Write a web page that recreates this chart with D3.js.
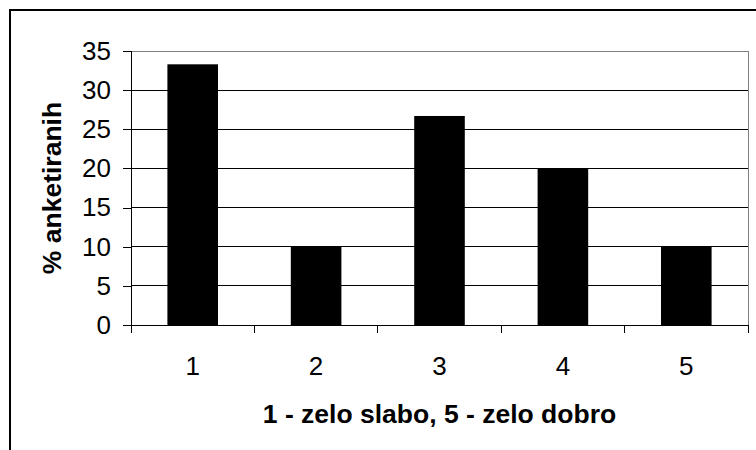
<!DOCTYPE html>
<html>
<head>
<meta charset="utf-8">
<script src="https://cdn.jsdelivr.net/npm/d3@7"></script>
<style>
  html, body { margin: 0; padding: 0; background: #fff; }
  svg { display: block; font-family: "Liberation Sans", Arial, sans-serif; }
</style>
</head>
<body>
<div id="chart"></div>
<script>
// Survey rating chart: share of respondents per grade (1 = very bad, 5 = very good)
const categories = ["1", "2", "3", "4", "5"];
const percents = [33.3, 10, 26.7, 20, 10];
const yTicks = [0, 5, 10, 15, 20, 25, 30, 35];
const xTitle = "1 - zelo slabo, 5 - zelo dobro";
const yTitle = "% anketiranih";

const W = 756, H = 450;
const plot = { left: 131, top: 51, right: 748, bottom: 325 };

const svg = d3.select("#chart")
  .append("svg")
  .attr("width", W)
  .attr("height", H)
  .attr("viewBox", `0 0 ${W} ${H}`);

// outer frame (cut off at the right and bottom in the original)
svg.append("rect")
  .attr("x", 10).attr("y", 10)
  .attr("width", W + 20).attr("height", H + 20)
  .attr("fill", "none")
  .attr("stroke", "#000")
  .attr("stroke-width", 2);

// Scales
const x = d3.scaleBand()
  .domain(categories)
  .range([plot.left, plot.right])
  .paddingInner(0.59)
  .paddingOuter(0.295);
const y = d3.scaleLinear()
  .domain([0, 35])
  .range([plot.bottom, plot.top]);

// gridlines
svg.append("g")
  .attr("shape-rendering", "crispEdges")
  .selectAll("line")
  .data(yTicks.filter(t => t > 0 && t < 35))
  .join("line")
  .attr("x1", plot.left).attr("x2", plot.right)
  .attr("y1", d => y(d)).attr("y2", d => y(d))
  .attr("stroke", "#000");

// plot border (top + right in gray)
svg.append("path")
  .attr("shape-rendering", "crispEdges")
  .attr("d", `M${plot.left},${y(35)}H${plot.right}V${y(0)}`)
  .attr("fill", "none")
  .attr("stroke", "#808080");

// Bars
svg.append("g")
  .selectAll("rect")
  .data(categories.map((c, i) => ({ cat: c, value: percents[i] })))
  .join("rect")
  .attr("x", d => x(d.cat))
  .attr("y", d => y(d.value))
  .attr("width", x.bandwidth())
  .attr("height", d => y(0) - y(d.value))
  .attr("fill", "#000");

// Y axis
const yAxis = svg.append("g")
  .attr("transform", `translate(${plot.left},0)`)
  .attr("shape-rendering", "crispEdges")
  .call(d3.axisLeft(y).tickValues(yTicks).tickSize(8).tickPadding(12).tickSizeOuter(0));
yAxis.select(".domain").remove();
yAxis.selectAll("text")
  .attr("font-family", "'Liberation Sans', Arial, sans-serif")
  .attr("font-size", 26)
  .attr("fill", "#000");
yAxis.selectAll("line").attr("stroke", "#000");

// X axis: ticks between categories
const boundaries = [plot.left].concat(categories.map(c => x(c) + x.bandwidth() / 2 + x.step() / 2));
const xAxis = svg.append("g").attr("shape-rendering", "crispEdges");
xAxis.append("line")
  .attr("x1", plot.left).attr("x2", plot.right)
  .attr("y1", y(0)).attr("y2", y(0))
  .attr("stroke", "#000");
xAxis.selectAll(".tick")
  .data(boundaries)
  .join("line")
  .attr("class", "tick")
  .attr("x1", d => d).attr("x2", d => d)
  .attr("y1", y(0)).attr("y2", y(0) + 8)
  .attr("stroke", "#000");
svg.append("line")
  .attr("shape-rendering", "crispEdges")
  .attr("x1", plot.left).attr("x2", plot.left)
  .attr("y1", y(35)).attr("y2", y(0) + 8)
  .attr("stroke", "#000");

svg.append("g")
  .selectAll("text")
  .data(categories)
  .join("text")
  .attr("x", d => x(d) + x.bandwidth() / 2)
  .attr("y", y(0) + 50)
  .attr("text-anchor", "middle")
  .attr("font-size", 26)
  .text(d => d);

// Titles
svg.append("text")
  .attr("x", (plot.left + plot.right) / 2)
  .attr("y", 423)
  .attr("text-anchor", "middle")
  .attr("font-size", 26.5)
  .attr("font-weight", "bold")
  .text(xTitle);

svg.append("text")
  .attr("transform", `translate(61,${(plot.top + plot.bottom) / 2}) rotate(-90)`)
  .attr("text-anchor", "middle")
  .attr("font-size", 26.5)
  .attr("font-weight", "bold")
  .text(yTitle);
</script>
</body>
</html>
